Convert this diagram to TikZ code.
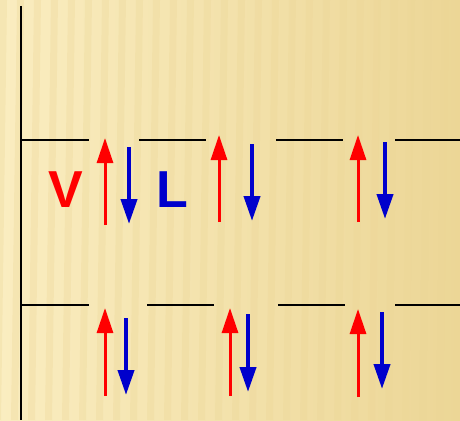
\documentclass[tikz,border=0pt]{standalone}
\usepackage{fontspec}
\setmainfont{Liberation Sans}
\usetikzlibrary{arrows.meta}
\definecolor{paper}{RGB}{246,230,176}
\definecolor{paperdark}{RGB}{236,214,150}
\definecolor{paperlight}{RGB}{250,237,192}
\definecolor{spinred}{RGB}{255,0,0}
\definecolor{spinblue}{RGB}{0,0,204}
\tikzset{
  level/.style={line width=2pt, black},
  spinup/.style={spinred, line width=3pt, -{Triangle[width=16pt,length=25pt]}},
  spindown/.style={spinblue, line width=4pt, -{Triangle[width=16pt,length=25pt]}},
  tag/.style={font=\bfseries\fontsize{52}{52}\selectfont, inner sep=0pt}
}
\begin{document}
\begin{tikzpicture}[x=1pt,y=-1pt]
% background with soft vertical stripes
\useasboundingbox (0,0) rectangle (460,420);
\shade[left color=paperlight, right color=paperdark] (0,0) rectangle (460,420);
\foreach \s in {0,17,...,476}{
  \fill[paperdark, opacity=0.3] (\s,0) -- (\s+7,0) -- (\s+1,420) -- (\s-6,420) -- cycle;
}
% vertical axis
\coordinate (axtop) at (21,6);
\coordinate (axbot) at (21,420);
\draw[line width=2.4pt] (axtop) -- (axbot);
% upper levels
\foreach \a/\b [count=\i] in {22/89, 139/206, 276/343, 395/460}{
  \coordinate (ua\i) at (\a,140);
  \coordinate (ub\i) at (\b,140);
  \draw[level] (ua\i) -- (ub\i);
}
% lower levels
\foreach \a/\b [count=\i] in {22/89, 147/214, 278/345, 395/460}{
  \coordinate (la\i) at (\a,305);
  \coordinate (lb\i) at (\b,305);
  \draw[level] (la\i) -- (lb\i);
}
% upper spins
\coordinate (ur1s) at (105,225); \coordinate (ur1e) at (105,138);
\coordinate (ub1s) at (129,147); \coordinate (ub1e) at (129,224);
\coordinate (ur2s) at (219,222); \coordinate (ur2e) at (219,135);
\coordinate (ubl2s) at (252,144); \coordinate (ubl2e) at (252,221);
\coordinate (ur3s) at (358,222); \coordinate (ur3e) at (358,135);
\coordinate (ubl3s) at (385,142); \coordinate (ubl3e) at (385,219);
\draw[spinup] (ur1s) -- (ur1e);
\draw[spindown] (ub1s) -- (ub1e);
\draw[spinup] (ur2s) -- (ur2e);
\draw[spindown] (ubl2s) -- (ubl2e);
\draw[spinup] (ur3s) -- (ur3e);
\draw[spindown] (ubl3s) -- (ubl3e);
% lower spins
\coordinate (lr1s) at (105,396); \coordinate (lr1e) at (105,308);
\coordinate (lbl1s) at (126,318); \coordinate (lbl1e) at (126,395);
\coordinate (lr2s) at (230,396); \coordinate (lr2e) at (230,308);
\coordinate (lbl2s) at (248,314); \coordinate (lbl2e) at (248,392);
\coordinate (lr3s) at (358,397); \coordinate (lr3e) at (358,309);
\coordinate (lbl3s) at (382,312); \coordinate (lbl3e) at (382,389);
\draw[spinup] (lr1s) -- (lr1e);
\draw[spindown] (lbl1s) -- (lbl1e);
\draw[spinup] (lr2s) -- (lr2e);
\draw[spindown] (lbl2s) -- (lbl2e);
\draw[spinup] (lr3s) -- (lr3e);
\draw[spindown] (lbl3s) -- (lbl3e);
% labels
\node[tag, text=spinred] (V) at (66,190) {V};
\node[tag, text=spinblue] (L) at (172,190) {L};
\end{tikzpicture}
\end{document}
